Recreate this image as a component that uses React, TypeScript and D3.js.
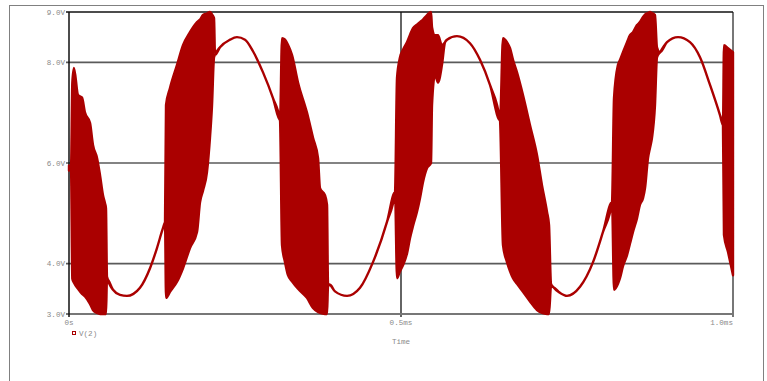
import React from 'react'
import * as d3 from 'd3'

// bursts: [time ms, upper V, lower V]; swings: [time ms, V]
const burst1 = [
  [0, 5.95, 5.85], [0.003, 5.92, 5.88], [0.005, 7.6, 3.7], [0.0075, 7.89, 3.62],
  [0.0136, 7.35, 3.5], [0.0196, 7.3, 3.4], [0.0241, 7.0, 3.35], [0.0316, 6.8, 3.2],
  [0.0361, 6.36, 3.08], [0.0422, 6.1, 3.02], [0.0467, 5.76, 3.0], [0.0512, 5.36, 3.0],
  [0.0542, 5.2, 3.0], [0.0557, 5.1, 3.0], [0.0572, 3.74, 3.7],
]
const swing1 = [
  [0.0663, 3.48], [0.0768, 3.38], [0.0873, 3.36], [0.097, 3.4], [0.1069, 3.52],
  [0.122, 3.91], [0.1325, 4.31], [0.1416, 4.71], [0.1446, 4.82],
]
const burst2 = [
  [0.1461, 7.15, 3.32], [0.1521, 7.49, 3.44], [0.1627, 7.95, 3.64], [0.1717, 8.34, 3.91],
  [0.1822, 8.6, 4.31], [0.1928, 8.8, 4.63], [0.1973, 8.85, 5.22], [0.2018, 8.94, 5.45],
  [0.2078, 8.97, 5.82], [0.2123, 9.0, 6.5], [0.2154, 8.95, 7.15], [0.2184, 8.88, 8.1],
]
const swing2 = [
  [0.2199, 8.15], [0.2274, 8.3], [0.2425, 8.45], [0.253, 8.5], [0.2651, 8.45],
  [0.2771, 8.22], [0.2922, 7.8], [0.3072, 7.29], [0.3178, 6.85],
]
const burst3 = [
  [0.3208, 8.48, 4.37], [0.3253, 8.45, 4.03], [0.3298, 8.35, 3.77], [0.3358, 8.15, 3.65],
  [0.3449, 7.6, 3.5], [0.3584, 7.0, 3.32], [0.3675, 6.5, 3.12], [0.375, 6.1, 3.04],
  [0.378, 5.5, 3.02], [0.3855, 5.36, 3.0], [0.3886, 5.17, 3.0], [0.3901, 3.6, 3.55],
]
const swing3 = [
  [0.3931, 3.58], [0.4006, 3.45], [0.4187, 3.36], [0.4383, 3.52], [0.4578, 4.03],
  [0.4789, 4.83], [0.491, 5.42],
]
const burst4 = [
  [0.494, 7.69, 3.71], [0.4985, 8.1, 3.85], [0.503, 8.25, 3.97], [0.509, 8.4, 4.2],
  [0.5136, 8.55, 4.51], [0.5181, 8.68, 4.75], [0.5241, 8.75, 5.03], [0.5286, 8.8, 5.3],
  [0.5331, 8.85, 5.62], [0.5392, 8.94, 5.9], [0.5452, 9.0, 6.0], [0.5467, 8.7, 7.15],
  [0.5512, 8.54, 7.75], [0.5557, 8.54, 7.6], [0.5617, 8.34, 7.95],
]
const swing4 = [
  [0.5663, 8.4], [0.5693, 8.45], [0.5843, 8.52], [0.6039, 8.38], [0.619, 8.05],
  [0.634, 7.55], [0.6491, 6.85],
]
const burst5 = [
  [0.6536, 8.48, 4.37], [0.6596, 8.4, 4.03], [0.6642, 8.28, 3.85], [0.6687, 8.05, 3.71],
  [0.6747, 7.8, 3.6], [0.6837, 7.35, 3.44], [0.6943, 6.75, 3.25], [0.7048, 6.16, 3.08],
  [0.7123, 5.56, 3.02], [0.7199, 5.03, 3.0], [0.7229, 4.77, 3.0], [0.7259, 3.6, 3.55],
]
const swing5 = [
  [0.7289, 3.54], [0.7395, 3.42], [0.75, 3.36], [0.7696, 3.54], [0.7892, 4.03],
  [0.8042, 4.63], [0.8178, 5.22],
]
const burst6 = [
  [0.8208, 7.29, 3.48], [0.8268, 7.95, 3.6], [0.8298, 8.05, 3.71], [0.8343, 8.2, 3.95],
  [0.8404, 8.4, 4.17], [0.8449, 8.54, 4.4], [0.8494, 8.6, 4.63], [0.8554, 8.74, 4.9],
  [0.8599, 8.8, 5.17], [0.8645, 8.9, 5.3], [0.8675, 8.95, 5.5], [0.872, 8.98, 6.1],
  [0.875, 9.0, 6.3], [0.878, 8.98, 6.5], [0.8825, 8.94, 7.15], [0.8855, 8.3, 8.1],
]
const swing6 = [
  [0.8901, 8.2], [0.9006, 8.4], [0.9172, 8.5], [0.9352, 8.4], [0.9503, 8.1],
  [0.9654, 7.55], [0.9804, 6.95], [0.9849, 6.75],
]
const burst7 = [[0.9864, 8.34, 4.57], [0.9925, 8.28, 4.23], [1.0, 8.2, 3.77]]

const yTicks = [9, 8, 6, 4, 3]
const yLabels = ['9.0V', '8.0V', '6.0V', '4.0V', '3.0V']
const xTicks = [0, 0.5, 1]
const xLabels = ['0s', '0.5ms', '1.0ms']
const seriesName = 'V(2)'

const RED = '#aa0000'
const LABEL = '#8a8a8a'
const FONT = '"Liberation Mono", "DejaVu Sans Mono", monospace'

const asBand = (s: number[][]) => s.map(([t, v]) => [t, v, v])

export default function App() {
  const x = d3.scaleLinear().domain([0, 1]).range([69, 733])
  const y = d3.scaleLinear().domain([3, 9]).range([314, 12])

  const trace = [
    ...burst1, ...asBand(swing1), ...burst2, ...asBand(swing2), ...burst3,
    ...asBand(swing3), ...burst4, ...asBand(swing4), ...burst5, ...asBand(swing5),
    ...burst6, ...asBand(swing6), ...burst7,
  ]

  const area = d3.area<number[]>()
    .x(d => x(d[0]))
    .y0(d => y(d[2]))
    .y1(d => y(d[1]))
    .curve(d3.curveMonotoneX)

  const [x0, x1] = x.range()
  const [yb, yt] = y.range()

  return (
    <div style={{ position: 'fixed', left: 0, top: 0 }}>
      <svg width={767} height={381} style={{ display: 'block', background: '#fff' }}>
        {/* dotted page border */}
        <rect x={9.5} y={5.5} width={754} height={380} fill="none"
          stroke="#000" strokeWidth={1} strokeDasharray="1,1" />

        {/* grid lines */}
        {yTicks.filter(v => v !== 9 && v !== 3).map(v => (
          <line key={v} x1={x0 - 3} x2={x1} y1={y(v)} y2={y(v)} stroke="#5a5a5a" strokeWidth={1.6} />
        ))}
        <line x1={x(0.5)} x2={x(0.5)} y1={yt} y2={yb + 3} stroke="#111" strokeWidth={1.3} />

        {/* frame */}
        <line x1={x0 - 3} x2={x1} y1={yb} y2={yb} stroke="#777" strokeWidth={2} />
        <line x1={x1} x2={x1} y1={yt} y2={yb + 3} stroke="#777" strokeWidth={2} />
        <line x1={x0 - 3} x2={x1} y1={yt} y2={yt} stroke="#111" strokeWidth={1.5} />
        <line x1={x0} x2={x0} y1={yt} y2={yb + 3} stroke="#111" strokeWidth={1.5} />

        {/* trace */}
        <path d={area(trace) || ''} fill={RED} stroke={RED} strokeWidth={2.4} strokeLinejoin="round" />

        {/* y labels */}
        {yTicks.map((v, i) => (
          <text key={v} x={x0 - 4} y={y(v)} dy="0.35em" textAnchor="end"
            fontFamily={FONT} fontSize={7.6} fill={LABEL}>{yLabels[i]}</text>
        ))}

        {/* x labels */}
        {xTicks.map((t, i) => (
          <text key={t} x={x(t)} y={yb + 11}
            textAnchor={i === xTicks.length - 1 ? 'end' : 'middle'}
            fontFamily={FONT} fontSize={7.6} fill={LABEL}>{xLabels[i]}</text>
        ))}

        {/* legend */}
        <rect x={72.5} y={331.5} width={3} height={3} fill="none" stroke={RED} strokeWidth={1} />
        <text x={79} y={333} dy="0.35em" fontFamily={FONT} fontSize={7.6} fill={LABEL}>{seriesName}</text>

        <text x={x(0.5)} y={341} dy="0.35em" textAnchor="middle"
          fontFamily={FONT} fontSize={7.6} fill={LABEL}>Time</text>
      </svg>
    </div>
  )
}
